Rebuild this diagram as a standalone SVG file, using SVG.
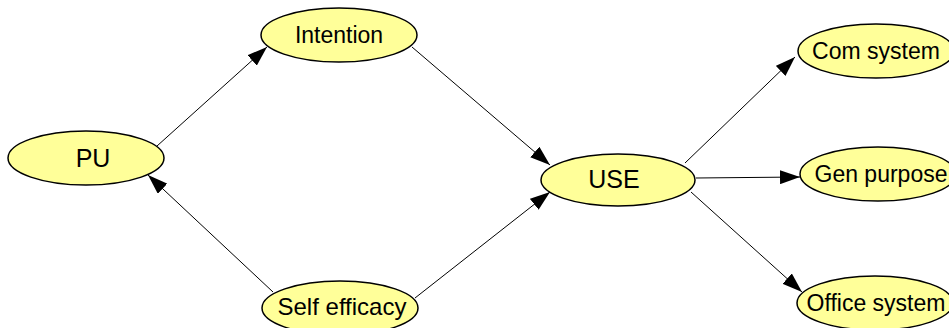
<svg xmlns="http://www.w3.org/2000/svg" width="949" height="328" viewBox="0 0 949 328">
<style>
.node ellipse{fill:#ffff99;stroke:#000;stroke-width:1.5}
.node text{font-family:"Liberation Sans",Arial,sans-serif;font-size:23px;fill:#000;text-anchor:middle}
.edges line{stroke:#000;stroke-width:1;fill:none;marker-end:url(#arr)}
</style>
<defs>
<marker id="arr" markerUnits="userSpaceOnUse" markerWidth="20" markerHeight="14" refX="20" refY="7" orient="auto" viewBox="0 0 20 14">
<path d="M0,0 L20,7 L0,14 z" fill="#000"/>
</marker>
</defs>
<rect width="949" height="328" fill="#fff"/>
<g class="edges">
<line x1="157" y1="146" x2="267" y2="47"/>
<line x1="273" y1="292" x2="148" y2="175"/>
<line x1="412" y1="47" x2="550" y2="165"/>
<line x1="415" y1="298" x2="550" y2="192"/>
<line x1="685" y1="163" x2="795" y2="57"/>
<line x1="696" y1="178" x2="800" y2="177"/>
<line x1="691" y1="192" x2="802" y2="292"/>
</g>
<g id="PU" class="node"><ellipse cx="86" cy="158" rx="78" ry="27"/><text x="93" y="167" style="font-size:25px">PU</text></g>
<g id="Intention" class="node"><ellipse cx="339" cy="35" rx="78" ry="27"/><text x="339" y="43">Intention</text></g>
<g id="SelfEfficacy" class="node"><ellipse cx="340" cy="308" rx="78" ry="27"/><text x="342" y="315" style="font-size:24px">Self efficacy</text></g>
<g id="USE" class="node"><ellipse cx="618" cy="180" rx="77" ry="26"/><text x="614" y="188" style="font-size:25px">USE</text></g>
<g id="ComSystem" class="node"><ellipse cx="876" cy="51" rx="78" ry="27"/><text x="876" y="59">Com system</text></g>
<g id="GenPurpose" class="node"><ellipse cx="878" cy="174" rx="78" ry="27"/><text x="881" y="182">Gen purpose</text></g>
<g id="OfficeSystem" class="node"><ellipse cx="875" cy="303" rx="78" ry="27"/><text x="876" y="311">Office system</text></g>
</svg>
